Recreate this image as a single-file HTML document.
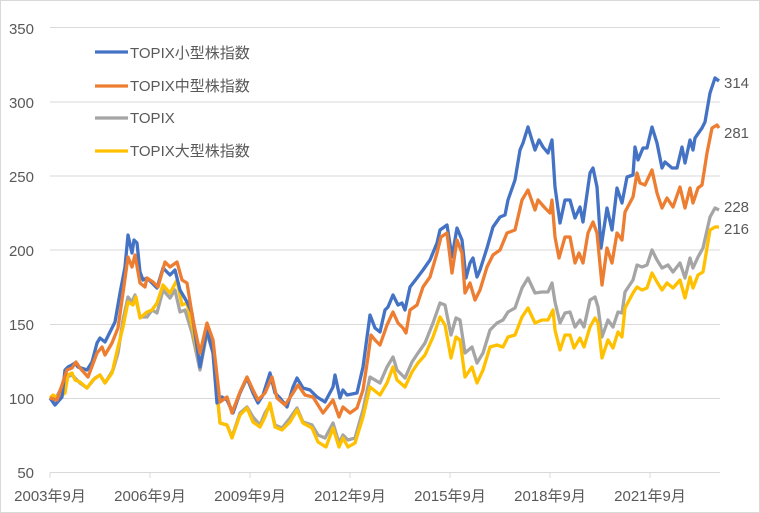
<!DOCTYPE html>
<html><head><meta charset="utf-8"><style>body{margin:0;background:#fff}svg{display:block}text{font-family:"Liberation Sans","Noto Sans CJK JP",sans-serif;fill:#595959;font-size:15px}</style></head><body>
<svg width="760" height="513" viewBox="0 0 760 513">
<rect x="0.5" y="0.5" width="759" height="512" fill="#fff" stroke="#d9d9d9"/>
<g stroke="#d9d9d9" stroke-width="1">
<line x1="50" y1="27.5" x2="720" y2="27.5"/><line x1="50" y1="102" x2="720" y2="102"/><line x1="50" y1="176" x2="720" y2="176"/><line x1="50" y1="250" x2="720" y2="250"/><line x1="50" y1="324.5" x2="720" y2="324.5"/><line x1="50" y1="398.5" x2="720" y2="398.5"/><line x1="50" y1="472.5" x2="720" y2="472.5"/>
<line x1="50" y1="472.5" x2="50" y2="478"/><line x1="150" y1="472.5" x2="150" y2="478"/><line x1="250" y1="472.5" x2="250" y2="478"/><line x1="350" y1="472.5" x2="350" y2="478"/><line x1="450" y1="472.5" x2="450" y2="478"/><line x1="550" y1="472.5" x2="550" y2="478"/><line x1="650" y1="472.5" x2="650" y2="478"/>
</g>
<g text-anchor="end"><text x="34" y="34">350</text><text x="34" y="108">300</text><text x="34" y="182">250</text><text x="34" y="256">200</text><text x="34" y="330">150</text><text x="34" y="404">100</text><text x="34" y="478">50</text></g>
<g text-anchor="middle"><text x="50" y="501">2003年9月</text><text x="150" y="501">2006年9月</text><text x="250" y="501">2009年9月</text><text x="350" y="501">2012年9月</text><text x="450" y="501">2015年9月</text><text x="550" y="501">2018年9月</text><text x="650" y="501">2021年9月</text></g>
<g fill="none" stroke-width="3.3" stroke-linejoin="round">
<polyline stroke="#a5a5a5" points="50,398 55,400 67,377 72,375 80,383 87,388 95,378 100,375 105,383 113,370 118,353 123,320 128,297 132,302 135,295 140,317 147,317 152,310 157,313 163,290 170,298 175,290 180,312 185,310 192,333 200,370 207,333 213,353 220,423 227,425 232,437 240,413 247,407 253,417 260,425 265,413 270,405 275,425 282,428 290,418 297,408 303,422 312,425 318,435 325,438 333,423 339,443 343,435 348,440 355,438 363,410 370,377 380,383 387,367 393,357 397,370 405,378 412,362 418,353 425,343 433,323 440,303 445,305 451,335 456,318 460,320 465,353 472,347 477,363 483,353 490,330 497,323 503,320 508,312 515,308 522,288 528,278 535,293 542,292 548,292 552,283 555,302 560,323 565,313 570,312 575,327 580,320 584,327 590,300 595,297 598,307 602,337 608,320 613,327 618,312 622,313 625,292 633,280 637,265 642,267 647,265 652,250 657,260 662,268 668,265 673,272 680,263 685,278 690,258 693,268 698,257 703,248 710,217 715,208 719,210"/>
<polyline stroke="#ffc000" points="50,398 53,395 58,398 65,393 68,375 72,373 75,380 80,382 87,388 93,380 100,375 105,383 112,373 118,347 123,327 128,302 133,305 136,297 140,318 147,312 152,310 157,303 163,285 170,293 177,280 182,305 187,303 193,330 200,365 207,332 213,350 220,423 227,425 232,438 240,415 247,408 253,422 260,427 265,417 270,403 275,427 282,430 290,422 297,410 303,423 312,428 318,442 326,447 333,428 339,447 343,438 348,447 355,443 363,417 370,387 380,395 387,383 393,367 397,380 405,387 412,372 418,363 425,355 433,337 440,317 445,325 451,358 456,337 460,340 465,377 472,367 477,383 483,370 490,347 497,345 503,347 508,337 515,335 522,317 528,308 535,323 542,320 548,320 553,310 555,330 560,350 565,335 570,335 574,348 580,338 584,347 590,327 595,318 598,323 602,358 608,340 613,348 618,332 622,337 625,308 633,293 637,287 642,290 647,288 652,273 657,282 662,290 667,283 673,288 680,280 685,298 690,277 693,288 698,275 703,272 710,230 715,227 719,227"/>
<polyline stroke="#4472c4" points="50,398 55,405 62,397 65,370 68,367 72,365 75,363 78,367 87,370 92,362 97,343 100,338 105,342 110,332 115,322 120,293 125,267 128,235 132,253 134,240 137,243 140,272 143,280 147,278 152,283 157,288 163,268 170,275 175,270 180,290 187,302 192,313 197,347 200,367 207,330 213,353 217,403 222,397 227,400 233,413 240,393 247,378 253,393 258,403 263,395 270,373 275,393 280,398 287,407 293,387 297,378 303,388 310,390 317,397 325,402 333,387 335,375 340,398 343,390 347,395 357,393 363,367 370,315 375,328 380,332 385,310 388,307 393,295 398,305 402,303 405,310 410,287 417,278 423,270 430,260 437,243 440,230 447,225 452,257 457,228 462,240 466,278 470,263 473,258 477,277 480,270 487,248 493,227 500,217 505,215 508,200 515,180 520,150 523,143 528,127 535,150 539,140 543,147 548,153 552,140 555,187 560,223 565,200 570,200 575,218 580,207 583,222 590,173 593,168 597,187 601,248 607,208 612,230 617,188 622,203 627,177 633,175 635,147 638,160 643,148 647,148 652,127 657,143 662,168 665,162 672,168 677,168 682,147 685,163 690,140 693,150 695,138 702,128 705,122 710,93 715,78 719,81"/>
<polyline stroke="#ed7d31" points="50,398 57,400 67,370 72,368 76,362 80,368 88,377 97,353 102,347 105,355 112,343 118,328 123,293 128,257 132,267 135,255 140,283 145,287 147,278 153,282 158,287 165,262 170,267 177,262 182,280 187,283 193,320 200,353 207,323 213,340 220,402 227,397 232,413 240,392 247,377 253,390 258,400 265,393 272,377 277,398 285,405 293,393 298,385 305,395 313,397 323,413 333,400 339,417 343,407 350,413 357,408 363,390 368,357 371,335 375,340 380,345 387,325 393,312 398,323 403,328 406,333 410,310 417,305 423,287 430,277 437,253 441,237 447,233 452,273 457,240 462,253 465,293 470,283 475,300 480,290 487,267 493,255 500,250 507,233 515,230 522,200 528,190 535,210 538,200 545,208 550,213 552,200 555,237 559,258 565,237 570,237 575,263 579,253 583,263 588,233 593,222 597,233 602,285 607,248 612,263 617,233 622,240 625,212 633,197 637,173 640,183 645,185 652,170 657,193 662,208 667,198 673,207 680,187 685,208 690,188 693,203 698,188 702,185 707,153 712,128 717,125 719,128"/>
<line stroke="#4472c4" x1="95" y1="52" x2="128" y2="52"/>
<line stroke="#ed7d31" x1="95" y1="86" x2="128" y2="86"/>
<line stroke="#a5a5a5" x1="95" y1="118" x2="128" y2="118"/>
<line stroke="#ffc000" x1="95" y1="151" x2="128" y2="151"/>
</g>
<text x="130" y="58">TOPIX小型株指数</text>
<text x="130" y="91">TOPIX中型株指数</text>
<text x="130" y="123">TOPIX</text>
<text x="130" y="156">TOPIX大型株指数</text>
<g style="fill:#404040"><text x="724" y="88">314</text><text x="724" y="138">281</text><text x="724" y="212">228</text><text x="724" y="234">216</text></g>
</svg></body></html>
